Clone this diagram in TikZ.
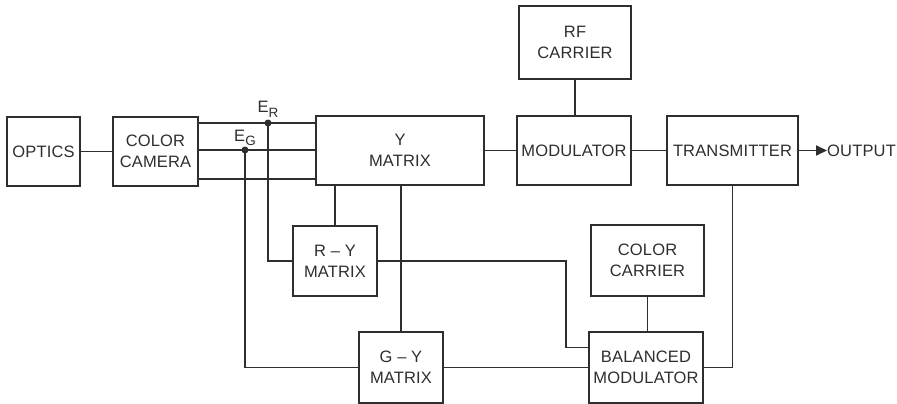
\documentclass[tikz,border=0pt]{standalone}
\usepackage{fontspec}
\setmainfont{Liberation Sans}[LetterSpace=1]
\usetikzlibrary{arrows.meta, positioning, calc}
\colorlet{ink}{black!82}

\begin{document}
\begin{tikzpicture}[x=1pt, y=-1pt, font=\fontsize{16.5}{21}\selectfont, color=ink,
  blk/.style={draw, line width=1.8pt, align=center, inner sep=2pt},
  wire/.style={line width=1.8pt},
  jdot/.style={circle, fill, inner sep=0pt, minimum size=7pt}]
  \useasboundingbox (0,0) rectangle (897,404);
  \clip (0,0) rectangle (897,404);

  % blocks
  \node[blk, minimum width=73, minimum height=69] (optics) at (43.5,151.5) {OPTICS};
  \node[blk, minimum width=85, minimum height=69] (camera) at (155.5,151.5) {COLOR\\CAMERA};
  \node[blk, minimum width=168, minimum height=69] (ymat) at (400,150.5) {Y\\MATRIX};
  \node[blk, minimum width=84, minimum height=70] (rymat) at (335,261) {R -- Y\\MATRIX};
  \node[blk, minimum width=84, minimum height=71] (gymat) at (401,367.5) {G -- Y\\MATRIX};
  \node[blk, minimum width=112, minimum height=73] (rf) at (575,42.5) {RF\\CARRIER};
  \node[blk, minimum width=114, minimum height=69] (mod) at (574,150.5) {MODULATOR};
  \node[blk, minimum width=131, minimum height=69] (tx) at (732.5,150.5) {TRANSMITTER};
  \node[blk, minimum width=113, minimum height=71] (cc) at (647.5,260.5) {COLOR\\CARRIER};
  \node[blk, minimum width=114, minimum height=71] (bm) at (646,367.5) {BALANCED\\MODULATOR};
  \node[inner sep=0pt, anchor=west] (out) at (827,150.5) {OUTPUT};

  % camera outputs
  \foreach \yy in {123,150,179}
    \draw[wire] (camera.east |- 0,\yy) -- (ymat.west |- 0,\yy);
  \node[jdot] (eR) at (268,123) {};
  \node[jdot] (eG) at (245,150) {};
  \node[inner sep=0pt, above=2pt of eR] (eRlbl) {E\raisebox{-0.5ex}{\fontsize{13.5}{13.5}\selectfont R}};
  \node[inner sep=0pt, above=0pt of eG] (eGlbl) {E\raisebox{-0.5ex}{\fontsize{13.5}{13.5}\selectfont G}};

  % connections
  \draw[wire] (optics) -- (camera);
  \draw[wire] (eR.center) |- (rymat.west);
  \draw[wire] (eG.center) |- (gymat.west);
  \draw[wire] (rymat.north) -- (rymat.north |- ymat.south);
  \draw[wire] (gymat.north) -- (gymat.north |- ymat.south);
  \draw[wire] (rymat.east) -| ($(bm.west)+(-22,-20)$) -- ($(bm.west)+(0,-20)$);
  \draw[wire] (gymat.east) -- (bm.west);
  \draw[wire] (cc.south) -- (cc.south |- bm.north);
  \draw[wire] (tx.south) |- (bm.east);
  \draw[wire] (ymat.east) -- (mod.west);
  \draw[wire] (mod.east) -- (tx.west);
  \draw[wire] (rf.south) -- (rf.south |- mod.north);
  \draw[wire, -{Triangle[length=11pt, width=10pt]}] (tx.east) -- (out.west);
\end{tikzpicture}
\end{document}
